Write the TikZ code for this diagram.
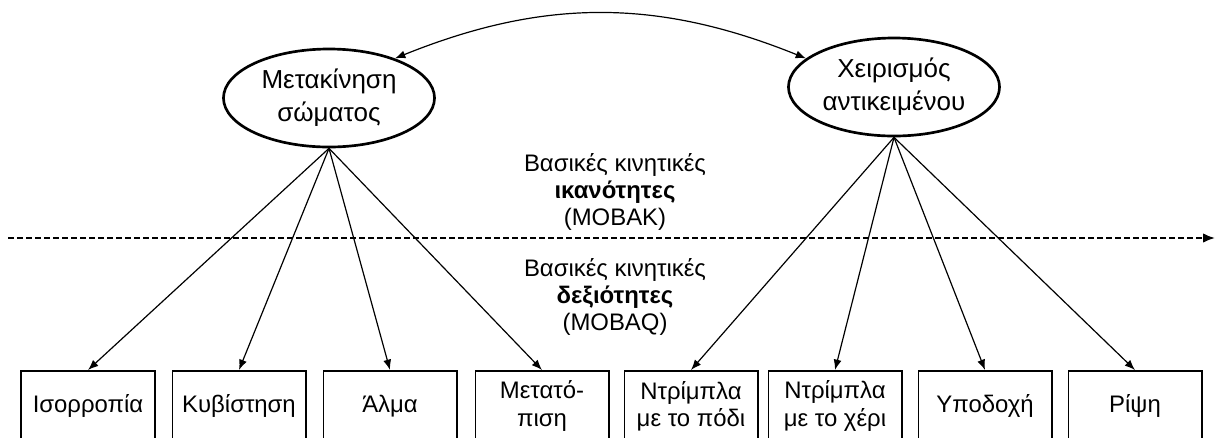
\documentclass[tikz,border=0pt]{standalone}
\usepackage{fontspec}
\setmainfont{Liberation Sans}
\usetikzlibrary{shapes.geometric, arrows.meta}

\begin{document}
\begin{tikzpicture}[x=0.025cm, y=-0.025cm,
    latent/.style={draw, ellipse, line width=1.9pt, minimum width=5.275cm,
      minimum height=2.45cm, inner sep=0pt, align=center,
      font=\fontsize{18.5}{23.5}\selectfont},
    skill/.style={draw, rectangle, line width=1.4pt, minimum width=3.325cm,
      minimum height=1.75cm, inner sep=0pt, align=center,
      font=\fontsize{17}{19.5}\selectfont},
    leveltext/.style={align=center, font=\fontsize{17}{19}\selectfont},
    loading/.style={-{Latex[length=2.6mm, width=2mm]}, line width=0.85pt}]
    \useasboundingbox (0, 0) rectangle (1216, 437);
    \clip (0, 0) rectangle (1216, 437);

    % the two factors
    \node [latent] (body) at (329, 98) {Μετακίνηση\\σώματος};
    \node [latent] (object) at (894, 87) {Χειρισμός\\αντικειμένου};

    \draw [{Latex[length=2.6mm, width=2mm]}-{Latex[length=2.6mm, width=2mm]}, line width=0.85pt]
      (body.31) to [bend left=22] (object.162);

    % the level line
    \coordinate (levelleft) at (8, 238);
    \coordinate (levelright) at (1215, 238);
    \draw [-{Latex[length=3mm, width=2.4mm]}, line width=1.4pt, dash pattern=on 0.15cm off 0.075cm]
      (levelleft) -- (levelright);

    \node [leveltext] (upper) at (615, 192) {Βασικές κινητικές\\\textbf{ικανότητες}\\(MOBAK)};
    \node [leveltext] (lower) at (615, 297) {Βασικές κινητικές\\\textbf{δεξιότητες}\\(MOBAQ)};

    % the eight items
    \node [skill] (balance) at (88, 406) {Ισορροπία};
    \node [skill] (roll) at (239, 406) {Κυβίστηση};
    \node [skill] (jump) at (390, 406) {Άλμα};
    \node [skill] (shift) at (542, 406) {Μετατό-\\πιση};
    \node [skill] (footdribble) at (691, 406) {Ντρίμπλα\\με το πόδι};
    \node [skill] (handdribble) at (835, 406) {Ντρίμπλα\\με το χέρι};
    \node [skill] (catch) at (985, 406) {Υποδοχή};
    \node [skill] (throw) at (1135, 406) {Ρίψη};

    \draw [loading] (body.south) -- (balance.north);
    \draw [loading] (body.south) -- (roll.north);
    \draw [loading] (body.south) -- (jump.north);
    \draw [loading] (body.south) -- (shift.north);
    \draw [loading] (object.south) -- (footdribble.north);
    \draw [loading] (object.south) -- (handdribble.north);
    \draw [loading] (object.south) -- (catch.north);
    \draw [loading] (object.south) -- (throw.north);
  \end{tikzpicture}
\end{document}
